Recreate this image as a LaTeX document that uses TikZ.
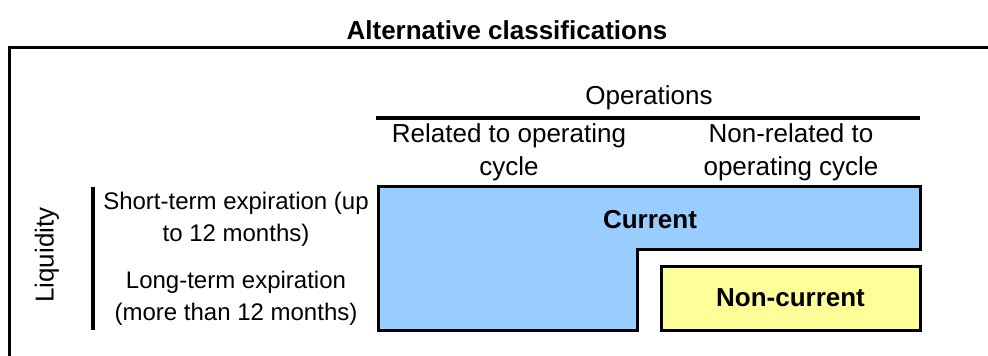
\documentclass[tikz,border=0pt]{standalone}
\usepackage{fontspec}
\setmainfont{Liberation Sans}
\definecolor{currentblue}{HTML}{99CCFF}
\definecolor{noncurrentyellow}{HTML}{FFFF99}
\begin{document}
\begin{tikzpicture}[x=1pt,y=-1pt,
    big/.style={font=\fontsize{26}{33}\selectfont,align=center,inner sep=0pt},
    small/.style={font=\fontsize{24}{32}\selectfont,align=center,inner sep=0pt},
    boxline/.style={line width=3pt}]
  \useasboundingbox (0,0) rectangle (988,356);
  % frame and headings
  \draw[boxline] (9.5,356) -- (9.5,47.5) -- (988,47.5);
  \node[big,font=\fontsize{26}{33}\selectfont\bfseries] (title) at (507,30) {Alternative classifications};
  \node[big] (ops) at (649,98) {Operations};
  \draw[line width=4pt] (376,117.5) -- (920,117.5);
  \node[big] (related) at (509,152) {Related to operating\\cycle};
  \node[big] (nonrelated) at (791,152) {Non-related to\\operating cycle};
  % liquidity side
  \node[big,rotate=90] (liq) at (47,255) {Liquidity};
  \draw[line width=4pt] (92.5,187) -- (92.5,330);
  \node[small] (short) at (236,219) {Short-term expiration (up\\to 12 months)};
  \node[small] (long) at (236,298) {Long-term expiration\\(more than 12 months)};
  % classes
  \draw[boxline,fill=currentblue] (378,186) -- (920,186) -- (920,249.5) -- (637,249.5)
    -- (637,330) -- (378,330) -- cycle;
  \node[big,font=\fontsize{26}{33}\selectfont\bfseries] (current) at (650,220) {Current};
  \node[boxline,draw,fill=noncurrentyellow,minimum width=259pt,minimum height=64pt,
    font=\fontsize{26}{33}\selectfont\bfseries] (noncurrent) at (790.5,298) {Non-current};
\end{tikzpicture}
\end{document}
